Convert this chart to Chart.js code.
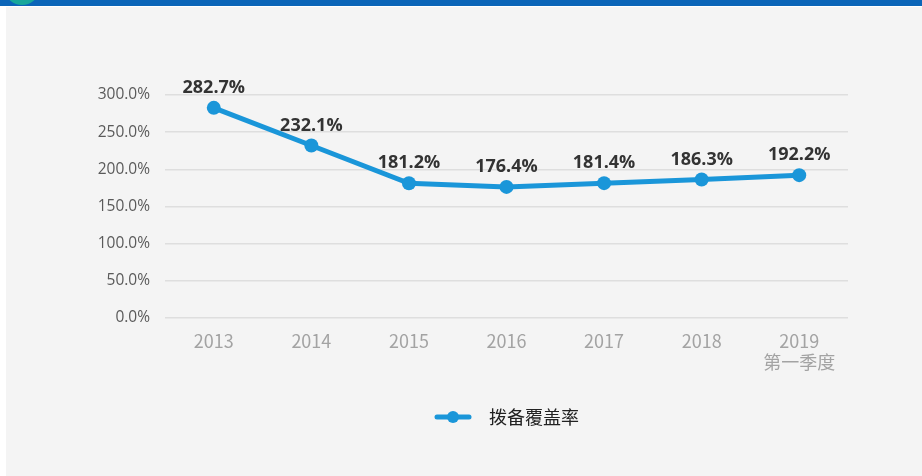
<!DOCTYPE html>
<html lang="zh">
<head>
    <meta charset="UTF-8">
    <title>拨备覆盖率</title>
    <script src="https://cdn.jsdelivr.net/npm/chart.js"></script>
    <style>
        body { margin: 0; background: #ffffff; }
        #wrap { position: relative; width: 922px; height: 476px; overflow: hidden; }
        #topbar { position: absolute; left: 0; top: 0; width: 922px; height: 6px; background: #0b65b8; }
        #blob { position: absolute; left: 6px; top: -22px; width: 32px; height: 27px; border-radius: 50%; background: #17a79b; }
        #panel { position: absolute; left: 6px; top: 7px; width: 916px; height: 469px; background: #f4f4f4; }
        #chart { position: absolute; left: 0; top: 0; }
    </style>
</head>
<body>
<div id="wrap">
    <div id="topbar"></div>
    <div id="blob"></div>
    <div id="panel"></div>
    <canvas id="chart" width="922" height="476"></canvas>
</div>
<script>
    // data
    const years = [['2013'], ['2014'], ['2015'], ['2016'], ['2017'], ['2018'], ['2019', '第一季度']];
    const coverage = [282.7, 232.1, 181.2, 176.4, 181.4, 186.3, 192.2];
    const seriesName = '拨备覆盖率';

    const lineBlue = '#1a96d9';

    // small legend marker: line with a dot in the middle (extra room on the right for the gap)
    const marker = document.createElement('canvas');
    marker.width = 46;
    marker.height = 14;
    (function () {
        const m = marker.getContext('2d');
        m.strokeStyle = lineBlue;
        m.lineWidth = 5;
        m.lineCap = 'round';
        m.beginPath();
        m.moveTo(3, 7);
        m.lineTo(35, 7);
        m.stroke();
        m.fillStyle = lineBlue;
        m.beginPath();
        m.arc(19, 7, 6, 0, Math.PI * 2);
        m.fill();
    })();

    // value labels above the points
    const valueLabels = {
        id: 'valueLabels',
        afterDatasetsDraw(chart) {
            const ctx = chart.ctx;
            const meta = chart.getDatasetMeta(0);
            ctx.save();
            ctx.font = 'bold 18px "Open Sans", "Noto Sans", sans-serif';
            ctx.fillStyle = '#333333';
            ctx.textAlign = 'center';
            ctx.textBaseline = 'middle';
            meta.data.forEach((pt, i) => {
                ctx.fillText(coverage[i].toFixed(1) + '%', pt.x, pt.y - 20);
            });
            ctx.restore();
        }
    };

    new Chart(document.getElementById('chart'), {
        type: 'line',
        data: {
            labels: years,
            datasets: [{
                label: seriesName,
                data: coverage,
                borderColor: lineBlue,
                backgroundColor: lineBlue,
                borderWidth: 5,
                pointRadius: 7,
                pointHoverRadius: 7,
                pointBackgroundColor: lineBlue,
                pointBorderWidth: 0,
                tension: 0,
                fill: false
            }]
        },
        options: {
            responsive: false,
            animation: false,
            layout: { padding: { top: 95, right: 74, bottom: 40, left: 0 } },
            scales: {
                x: {
                    offset: true,
                    grid: { display: false, drawTicks: false },
                    border: { display: false },
                    ticks: {
                        color: '#a3a3a3',
                        padding: 12,
                        font: { family: '"Noto Sans CJK SC", sans-serif', size: 18 },
                        maxRotation: 0
                    },
                    afterFit(scale) { scale.height = 60; }
                },
                y: {
                    min: 0,
                    max: 300,
                    grid: { color: '#dedede', lineWidth: 1.5, drawTicks: false },
                    border: { display: false },
                    ticks: {
                        stepSize: 50,
                        color: '#5a5a5a',
                        padding: 15,
                        font: { family: '"Open Sans", "Noto Sans", sans-serif', size: 15.5 },
                        callback: v => v.toFixed(1) + '%'
                    },
                    afterFit(scale) { scale.width = 165; }
                }
            },
            plugins: {
                tooltip: { enabled: false },
                legend: {
                    position: 'bottom',
                    fullSize: false,
                    labels: {
                        usePointStyle: true,
                        pointStyle: marker,
                        pointStyleWidth: 46,
                        padding: 30,
                        color: '#222222',
                        font: { family: '"Noto Sans CJK SC", sans-serif', size: 18 },
                        generateLabels(chart) {
                            return [{
                                text: seriesName,
                                pointStyle: marker,
                                fillStyle: lineBlue,
                                strokeStyle: lineBlue,
                                lineWidth: 0,
                                hidden: false,
                                datasetIndex: 0,
                                fontColor: '#222222'
                            }];
                        }
                    }
                }
            }
        },
        plugins: [valueLabels]
    });
</script>
</body>
</html>
